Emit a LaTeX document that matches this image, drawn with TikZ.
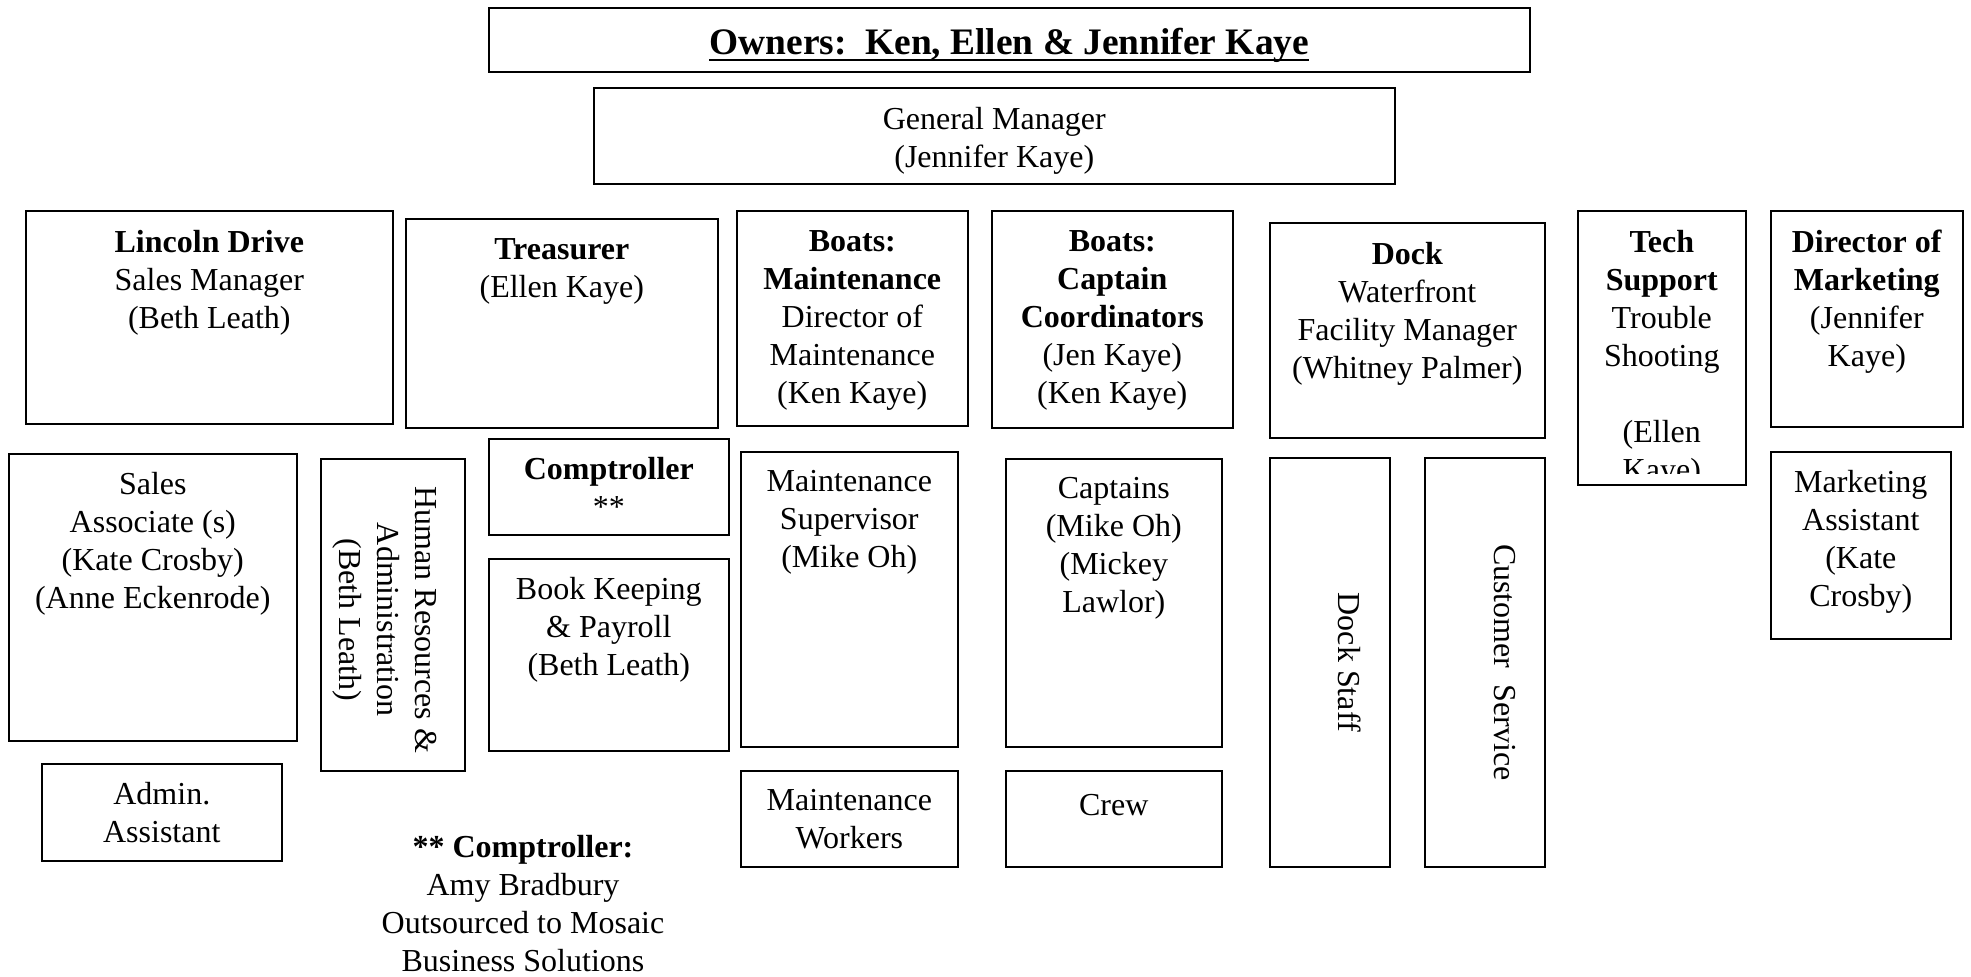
\documentclass[tikz,border=0pt]{standalone}
\usepackage{fontspec}
\setmainfont{Liberation Serif}
\usetikzlibrary{calc}
\usetikzlibrary{positioning}

\newcommand{\bodyfont}{\fontsize{16}{19}\selectfont}
\newcommand{\titlefont}{\fontsize{18.7}{22}\selectfont\bfseries}

\tikzset{
  orgbox/.style={draw, line width=0.8pt, inner sep=0pt, anchor=north west},
  boxtext/.style={anchor=north, inner sep=0pt, align=center, font=\bodyfont, execute at begin node=\strut},
  sidetext/.style={rotate=-90, inner sep=0pt, align=center, font=\bodyfont},
}

\begin{document}
\begin{tikzpicture}[x=0.5pt, y=-0.5pt]
  \useasboundingbox (0,0) rectangle (1971,977);

  % boxes: name/left/top/right/bottom
  \foreach \name/\xa/\ya/\xb/\yb in {owners/488/7/1529/71, gm/593/87/1394/183,
      lincoln/25/210/392/423, treasurer/405/218/717/427, boatsmaint/736/210/967/425,
      boatscapt/991/210/1232/427, dock/1269/222/1544/437, tech/1577/210/1745/484,
      dirmkt/1770/210/1962/426, sales/8/453/296/740, hr/320/458/464/770,
      comptroller/488/438/728/534, bookkeeping/488/558/728/750, maintsup/740/451/957/746,
      admin/41/763/281/860, maintwork/740/770/957/866, captains/1005/458/1221/746,
      crew/1005/770/1221/866, dockstaff/1269/457/1389/866, custserv/1424/457/1544/866,
      mktasst/1770/451/1950/638} {
    \node [orgbox, minimum width={(\xb-\xa)*0.5pt}, minimum height={(\yb-\ya)*0.5pt}] (\name) at (\xa,\ya) {};
  }

  \node [boxtext, font=\titlefont] (ownerstext) at ($(owners.north)+(0,16)$) {Owners:\ \ Ken, Ellen \& Jennifer Kaye};
  \draw [line width=1.3pt] ($(ownerstext.base west)+(0,6)$) -- ($(ownerstext.base east)+(0,6)$);

  \node [boxtext] (gmtext) at ($(gm.north)+(0,20)$) {General Manager\\(Jennifer Kaye)};

  % top row
  \node [boxtext] (lincolntext) at ($(lincoln.north)+(0,20)$) {\textbf{Lincoln Drive}\\Sales Manager\\(Beth Leath)};
  \node [boxtext] (treasurertext) at ($(treasurer.north)+(0,20)$) {\textbf{Treasurer}\\(Ellen Kaye)};
  \node [boxtext] (boatsmainttext) at ($(boatsmaint.north)+(0,20)$) {\textbf{Boats:}\\\textbf{Maintenance}\\Director of\\Maintenance\\(Ken Kaye)};
  \node [boxtext] (boatscapttext) at ($(boatscapt.north)+(0,20)$) {\textbf{Boats:}\\\textbf{Captain}\\\textbf{Coordinators}\\(Jen Kaye)\\(Ken Kaye)};
  \node [boxtext] (docktext) at ($(dock.north)+(0,20)$) {\textbf{Dock}\\Waterfront\\Facility Manager\\(Whitney Palmer)};
  \begin{scope}
    \clip (tech.north west) rectangle ($(tech.south east)+(0,-12)$);
    \node [boxtext] (techtext) at ($(tech.north)+(0,20)$) {\textbf{Tech}\\\textbf{Support}\\Trouble\\Shooting\\\strut\\(Ellen\\Kaye)};
  \end{scope}
  \node [boxtext] (dirmkttext) at ($(dirmkt.north)+(0,20)$) {\textbf{Director of}\\\textbf{Marketing}\\(Jennifer\\Kaye)};

  % lower rows
  \node [boxtext] (salestext) at ($(sales.north)+(0,19)$) {Sales\\Associate (s)\\(Kate Crosby)\\(Anne Eckenrode)};
  \node [sidetext] (hrtext) at ($(hr.center)+(-8,5)$) {Human Resources \&\\Administration\\(Beth Leath)};
  \node [boxtext] (comptrollertext) at ($(comptroller.north)+(0,19)$) {\textbf{Comptroller}\\**};
  \node [boxtext] (bookkeepingtext) at ($(bookkeeping.north)+(0,19)$) {Book Keeping\\\& Payroll\\(Beth Leath)};
  \node [boxtext] (maintsuptext) at ($(maintsup.north)+(0,19)$) {Maintenance\\Supervisor\\(Mike Oh)};
  \node [boxtext] (admintext) at ($(admin.north)+(0,19)$) {Admin.\\Assistant};
  \node [boxtext] (maintworktext) at ($(maintwork.north)+(0,19)$) {Maintenance\\Workers};
  \node [boxtext] (captainstext) at ($(captains.north)+(0,19)$) {Captains\\(Mike Oh)\\(Mickey\\Lawlor)};
  \node [boxtext] (crewtext) at ($(crew.north)+(0,19)$) {Crew};
  \node [sidetext] (dockstafftext) at ($(dockstaff.center)+(20,0)$) {Dock Staff};
  \node [sidetext] (custservtext) at ($(custserv.center)+(20,0)$) {Customer\ \ Service};
  \node [boxtext] (mktassttext) at ($(mktasst.north)+(0,19)$) {Marketing\\Assistant\\(Kate\\Crosby)};

  % footnote
  \node [boxtext] (notetext) at (523,835) {\textbf{** Comptroller:}\\Amy Bradbury\\Outsourced to Mosaic\\Business Solutions};
\end{tikzpicture}
\end{document}
